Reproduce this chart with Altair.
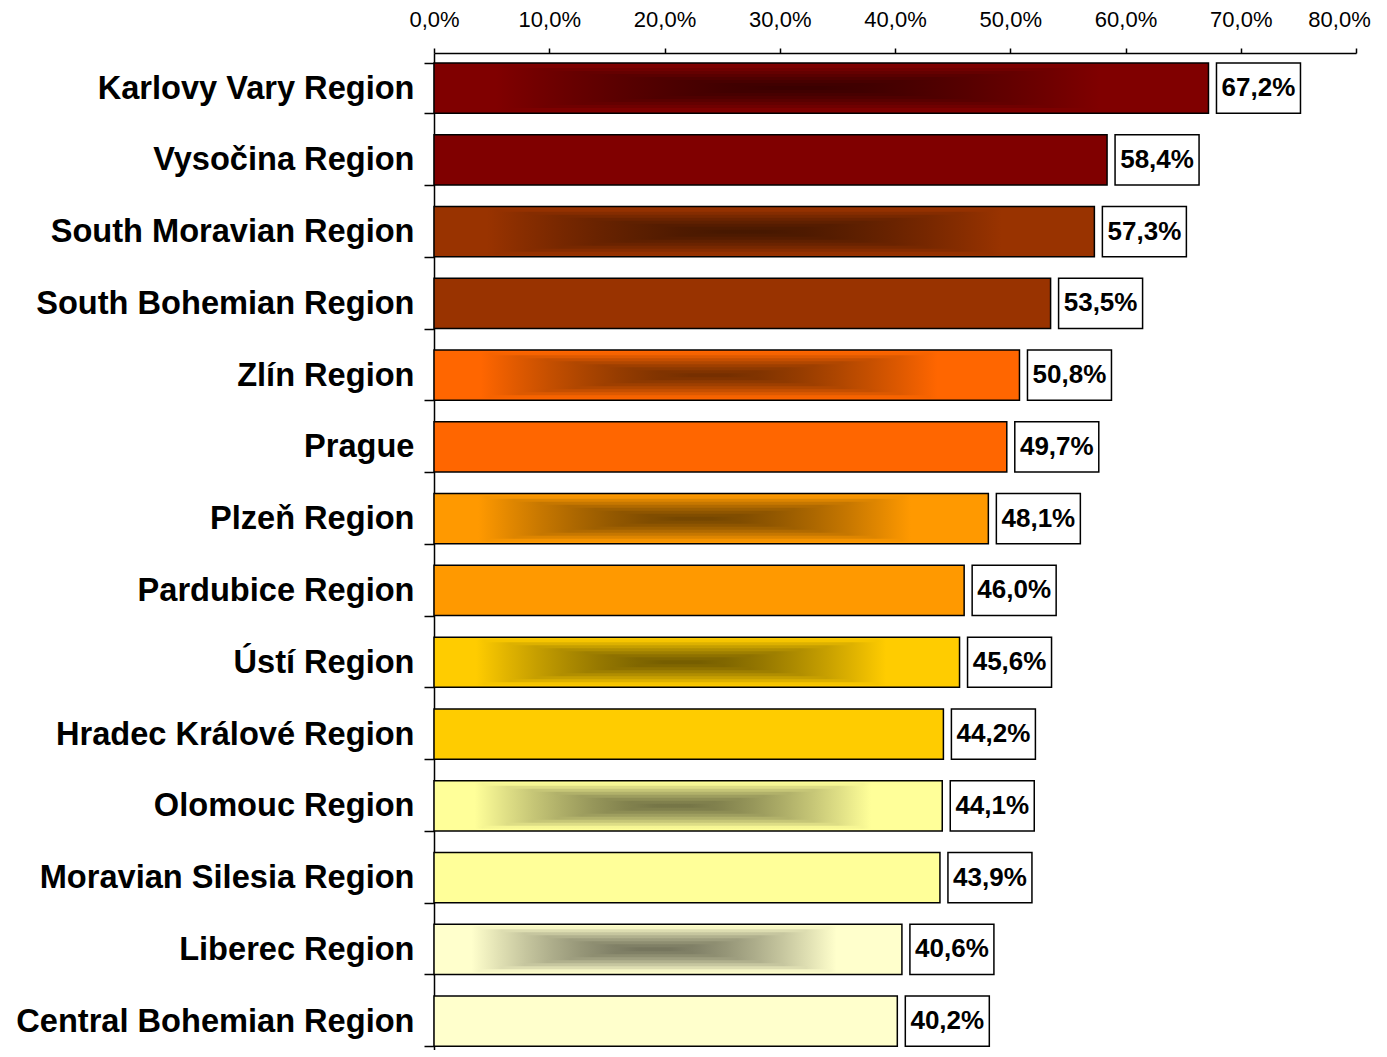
import altair as alt
import pandas as pd

regions = [
    "Karlovy Vary Region", "Vysočina Region", "South Moravian Region",
    "South Bohemian Region", "Zlín Region", "Prague", "Plzeň Region",
    "Pardubice Region", "Ústí Region", "Hradec Králové Region",
    "Olomouc Region", "Moravian Silesia Region", "Liberec Region",
    "Central Bohemian Region",
]
shares = [67.2, 58.4, 57.3, 53.5, 50.8, 49.7, 48.1, 46.0, 45.6, 44.2, 44.1, 43.9, 40.6, 40.2]
bar_colors = ["#800000", "#800000", "#993300", "#993300", "#FF6600", "#FF6600",
              "#FF9900", "#FF9900", "#FFCC00", "#FFCC00", "#FFFF99", "#FFFF99",
              "#FFFFCC", "#FFFFCC"]
shaded = [True, False] * 7
x_ticks = [0, 10, 20, 30, 40, 50, 60, 70, 80]

df = pd.DataFrame({"region": regions, "share": shares, "color": bar_colors})

FONT = "Liberation Sans"

x = alt.X(
    "share:Q",
    scale=alt.Scale(domain=[0, 80], nice=False, zero=True),
    axis=alt.Axis(
        orient="top", values=x_ticks,
        labelExpr="replace(format(datum.value, '.1f'), '.', ',') + '%'",
        title=None, grid=False, tickSize=5, tickColor="black", tickWidth=1.5,
        domainColor="black", domainWidth=1.5, labelFontSize=22, labelFont=FONT,
        labelColor="black", labelPadding=17, labelFlush=False, labelOverlap=False,
        labelOffset={"condition": {"test": "datum.value == 80", "value": -17}, "value": 0},
    ),
)
y = alt.Y(
    "region:N", sort=regions,
    scale=alt.Scale(domain=regions, paddingInner=0.3, paddingOuter=0.096, align=0.725),
    axis=alt.Axis(
        title=None, tickBand="extent", tickSize=10, tickColor="black", tickWidth=1.5,
        domainColor="black", domainWidth=1.5, labelFontSize=32.6, labelFont=FONT,
        labelFontWeight="bold", labelColor="black", labelPadding=10, labelLimit=0,
    ),
)


def hex2rgb(h):
    h = h.lstrip("#")
    return [int(h[i:i + 2], 16) for i in (0, 2, 4)]


def shade(base, s, dark_factor=0.45, power=1.5):
    b = hex2rgb(base)
    d = [v * dark_factor for v in b]
    t = min(1.0, max(0.0, s)) ** power
    c = [round(d[i] + (b[i] - d[i]) * t) for i in range(3)]
    return "#%02x%02x%02x" % tuple(c)


base = alt.Chart(df).mark_bar().encode(x=x, y=y, color=alt.Color("color:N", scale=None))

layers = [base]
H = 24.0
halves = [23, 20, 17, 14, 11, 8, 5, 2]
samples = [1.0, 0.85, 0.7, 0.55, 0.4, 0.25, 0.1]
cx, wx = 0.47, 0.39
for reg, col, sh in zip(regions, bar_colors, shaded):
    if not sh:
        continue
    for h in halves:
        r = h / H
        pts = [s for s in samples if s > r] + [r]
        left = [(cx - wx * s, shade(col, s)) for s in pts]
        right = [(cx + wx * s, shade(col, s)) for s in reversed(pts)]
        stops = [alt.GradientStop(offset=0, color=col)]
        stops += [alt.GradientStop(offset=round(o, 4), color=c) for o, c in left + right]
        stops += [alt.GradientStop(offset=1, color=col)]
        grad = alt.LinearGradient(gradient="linear", x1=0, y1=0, x2=1, y2=0, stops=stops)
        layers.append(
            alt.Chart(df).transform_filter(alt.datum.region == reg)
            .mark_bar(size=2 * h, fill=grad)
            .encode(x=x, y=y)
        )

outline = alt.Chart(df).mark_bar(fillOpacity=0, stroke="black", strokeWidth=1.5).encode(x=x, y=y)
boxes = alt.Chart(df).mark_bar(
    fill="white", stroke="black", strokeWidth=1.5, xOffset=8, x2Offset=92
).encode(x=x, x2="share:Q", y=y)
texts = alt.Chart(df).transform_calculate(
    label="replace(format(datum.share, '.1f'), '.', ',') + '%'"
).mark_text(
    align="center", baseline="middle", dx=50, fontSize=26, fontWeight="bold",
    font=FONT, color="black",
).encode(x=x, y=y, text="label:N")

layers += [outline, boxes, texts]

chart = alt.layer(*layers).properties(
    width=922, height=997,
    padding={"left": 7, "top": 0, "right": 0, "bottom": 0},
).configure_view(stroke=None)

chart.save("out.html", embed_options={"renderer": "svg", "actions": False})
